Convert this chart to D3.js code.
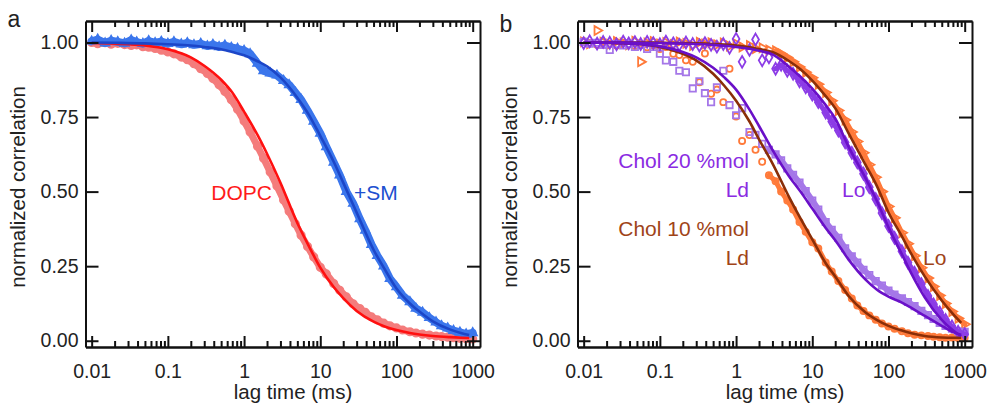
<!DOCTYPE html>
<html lang="en">
<head>
<meta charset="utf-8">
<title>FCS normalized correlation</title>
<style>
  body { margin: 0; background: #fff; }
  svg text { font-family: "Liberation Sans", Arial, sans-serif; }
  .axis path, .axis line { stroke: #111; stroke-width: 2; }
  .axis text { fill: #222; }
</style>
</head>
<body>
<svg id="chart" width="991" height="406"></svg>
<script src="https://cdn.jsdelivr.net/npm/d3@7"></script>
<script>
// lag times (ms) of the measured points, shared by every data series
var lagData = [0.010,0.012,0.015,0.018,0.022,0.027,0.033,0.039,0.047,0.056,0.068,0.082,
  0.10,0.12,0.15,0.18,0.22,0.27,0.33,0.39,0.47,0.56,0.68,0.82,
  1.0,1.2,1.5,1.8,2.2,2.7,3.3,3.9,4.7,5.6,6.8,8.2,
  10,12,15,18,22,27,33,39,47,56,68,82,
  100,120,150,180,220,270,330,390,470,560,680,820,1000];

// lag times (ms) where the fitted curves were read
var fitLag = [0.01,0.02,0.05,0.1,0.2,0.3,0.5,0.7,1,1.5,2,3,5,7,10,15,20,30,50,70,100,150,200,300,500,700,900];

// panel a : DOPC and +SM
var dopcData = [1.000,0.996,0.999,0.994,0.997,0.993,0.990,0.992,0.986,0.984,0.980,0.974,
  0.968,0.962,0.951,0.942,0.929,0.912,0.896,0.879,0.858,0.836,0.808,0.776,
  0.737,0.700,0.652,0.612,0.566,0.519,0.472,0.434,0.392,0.354,0.316,0.281,
  0.246,0.224,0.192,0.169,0.147,0.124,0.108,0.095,0.080,0.070,0.059,0.050,
  0.043,0.036,0.030,0.026,0.022,0.019,0.016,0.014,0.012,0.010,0.008,0.007,0.006];
var smData = [1.004,1.010,0.998,1.006,1.002,0.997,1.008,1.001,0.996,1.005,0.999,1.003,
  0.996,1.002,0.994,0.999,0.992,0.996,0.988,0.993,0.985,0.990,0.983,0.979,
  0.973,0.962,0.930,0.905,0.897,0.890,0.872,0.858,0.832,0.808,0.772,0.735,
  0.695,0.650,0.598,0.555,0.500,0.460,0.408,0.370,0.322,0.285,0.250,0.208,
  0.180,0.152,0.130,0.108,0.095,0.077,0.062,0.050,0.042,0.034,0.028,0.022,0.026];
var dopcFit = [0.998,0.996,0.990,0.977,0.950,0.922,0.875,0.832,0.768,0.690,0.627,0.530,0.395,0.320,0.245,0.180,0.143,0.100,0.064,0.048,0.036,0.026,0.021,0.016,0.012,0.010,0.009];
var smFit = [1.000,0.999,0.997,0.994,0.990,0.985,0.977,0.968,0.957,0.937,0.920,0.883,0.815,0.760,0.687,0.600,0.530,0.430,0.305,0.240,0.175,0.125,0.098,0.065,0.038,0.026,0.019];

// panel b : Chol 20 %mol and Chol 10 %mol, Ld and Lo phases
var chol20LdData = [1.002,0.996,0.999,0.992,0.975,0.995,0.990,0.996,0.985,0.992,0.978,0.985,
  0.962,0.940,0.935,0.905,0.900,0.846,0.870,0.830,0.800,0.850,0.905,0.790,
  0.756,0.780,0.700,0.690,0.660,0.640,0.625,0.605,0.578,0.556,0.530,0.502,
  0.470,0.440,0.398,0.372,0.345,0.310,0.283,0.262,0.238,0.220,0.200,0.185,
  0.168,0.155,0.142,0.130,0.116,0.100,0.086,0.073,0.060,0.050,0.040,0.032,0.030];
var chol20LoData = [0.998,1.004,0.996,1.002,0.999,0.994,1.003,0.997,1.001,0.995,1.002,0.998,
  0.994,1.003,0.997,0.992,1.000,0.995,0.990,0.998,0.992,0.986,0.995,0.982,
  1.012,0.935,0.975,1.010,0.940,0.950,0.912,0.925,0.905,0.895,0.870,0.850,
  0.825,0.800,0.765,0.735,0.705,0.665,0.630,0.598,0.560,0.515,0.475,0.428,
  0.385,0.345,0.300,0.262,0.228,0.190,0.150,0.122,0.095,0.070,0.048,0.030,0.022];
var chol10LdData = [1.004,0.998,0.992,1.002,0.996,0.990,0.999,0.993,0.988,0.995,0.984,0.990,
  0.978,0.985,0.962,0.958,0.940,0.935,0.867,0.963,0.828,0.842,0.800,0.912,
  0.752,0.670,0.690,0.640,0.600,0.555,0.535,0.500,0.470,0.440,0.398,0.365,
  0.330,0.309,0.262,0.232,0.200,0.170,0.142,0.118,0.100,0.085,0.070,0.058,
  0.048,0.040,0.032,0.025,0.020,0.018,0.016,0.013,0.012,0.010,0.011,0.009,0.010];
var chol10LoData = [1.002,0.996,1.040,1.001,0.994,1.003,0.998,0.992,1.004,0.935,0.998,1.003,
  0.995,1.000,0.993,1.002,0.997,0.990,1.001,0.995,0.999,0.992,0.998,0.988,
  0.996,0.985,0.990,0.980,0.982,0.975,0.972,0.962,0.950,0.935,0.918,0.900,
  0.882,0.860,0.832,0.805,0.772,0.740,0.700,0.668,0.630,0.590,0.548,0.500,
  0.450,0.412,0.362,0.325,0.285,0.245,0.210,0.182,0.152,0.125,0.098,0.075,0.055];
var chol20LdFit = [1.000,0.999,0.995,0.987,0.968,0.950,0.915,0.883,0.842,0.775,0.720,0.640,0.550,0.500,0.443,0.378,0.337,0.272,0.205,0.172,0.148,0.128,0.110,0.083,0.050,0.029,0.020];
var chol20LoFit = [1.000,1.000,0.999,0.998,0.996,0.995,0.992,0.989,0.985,0.979,0.972,0.960,0.918,0.885,0.845,0.790,0.745,0.650,0.545,0.470,0.380,0.290,0.225,0.145,0.070,0.035,0.015];
var chol10LdFit = [1.000,0.999,0.995,0.985,0.962,0.940,0.895,0.855,0.805,0.735,0.675,0.595,0.480,0.410,0.340,0.260,0.215,0.150,0.095,0.070,0.050,0.034,0.025,0.016,0.011,0.010,0.010];
var chol10LoFit = [1.000,1.000,1.000,0.999,0.998,0.997,0.995,0.993,0.990,0.984,0.978,0.968,0.937,0.910,0.872,0.820,0.780,0.695,0.590,0.520,0.430,0.350,0.290,0.215,0.135,0.090,0.060];

// axes
var xTicks = [0.01, 0.1, 1, 10, 100, 1000];
var xTickLabels = ["0.01", "0.1", "1", "10", "100", "1000"];
var yTicks = [0, 0.25, 0.5, 0.75, 1];
var yTickLabels = ["0.00", "0.25", "0.50", "0.75", "1.00"];

var svg = d3.select("#chart");
var W = 394.5, yTop = 21, yBottom = 347;

function pairs(lags, vals) {
  return lags.map(function(t, i) { return [t, vals[i]]; });
}

function drawPanel(px, id, letter, letterY, series, fits, labels) {
  var g = svg.append("g").attr("transform", "translate(" + px + ",0)");

  var x = d3.scaleLog().domain([0.0083, 1247]).range([0, W]);
  var y = d3.scaleLinear().domain([-0.021, 1.072]).range([yBottom, yTop]);

  g.append("clipPath").attr("id", "clip" + id)
    .append("rect").attr("x", 0).attr("y", yTop).attr("width", W).attr("height", yBottom - yTop);
  var plot = g.append("g").attr("clip-path", "url(#clip" + id + ")");

  // measured points: a light band where sampling is dense, plus the markers
  series.forEach(function(s) {
    var pts = pairs(lagData, s.values);
    var band = d3.line()
      .defined(function(d) { return d[0] >= s.bandFrom; })
      .x(function(d) { return x(d[0]); })
      .y(function(d) { return y(d[1]); });
    plot.append("path").datum(pts)
      .attr("d", band)
      .attr("fill", "none")
      .attr("stroke", s.color)
      .attr("stroke-width", s.band)
      .attr("stroke-linejoin", "round")
      .attr("stroke-linecap", "round");

    var sym = d3.symbol().type(s.shape).size(s.size);
    plot.append("g").selectAll("path")
      .data(pts)
      .enter().append("path")
      .attr("transform", function(d) {
        return "translate(" + x(d[0]) + "," + y(d[1]) + ")" + (s.rotate ? " rotate(" + s.rotate + ")" : "");
      })
      .attr("d", sym)
      .attr("fill", "none")
      .attr("stroke", s.color)
      .attr("stroke-width", s.stroke);
  });

  // fitted curves
  var line = d3.line()
    .curve(d3.curveMonotoneX)
    .x(function(d) { return x(d[0]); })
    .y(function(d) { return y(d[1]); });
  fits.forEach(function(f) {
    plot.append("path").datum(pairs(fitLag, f.values))
      .attr("d", line)
      .attr("fill", "none")
      .attr("stroke", f.color)
      .attr("stroke-width", 2.6);
  });

  // frame and ticks
  var minors = x.ticks().filter(function(t) {
    return t >= 0.01 && t <= 1000 && xTicks.indexOf(t) < 0;
  });

  g.append("g").attr("class", "axis").attr("transform", "translate(0," + yBottom + ")")
    .call(d3.axisBottom(x).tickValues(minors).tickSize(-6).tickSizeOuter(0).tickFormat(""));
  g.append("g").attr("class", "axis").attr("transform", "translate(0," + yTop + ")")
    .call(d3.axisTop(x).tickValues(minors).tickSize(-6).tickSizeOuter(0).tickFormat(""));
  g.append("g").attr("class", "axis").attr("transform", "translate(0," + yTop + ")")
    .call(d3.axisTop(x).tickValues(xTicks).tickSize(-11).tickSizeOuter(0).tickFormat(""));
  g.append("g").attr("class", "axis").attr("transform", "translate(0," + yBottom + ")")
    .call(d3.axisBottom(x).tickValues(xTicks).tickSize(-11).tickSizeOuter(0).tickPadding(17)
      .tickFormat(function(d, i) { return xTickLabels[i]; }))
    .attr("font-size", 19.5).attr("font-family", null);
  g.append("g").attr("class", "axis")
    .call(d3.axisLeft(y).tickValues(yTicks).tickSize(-13).tickSizeOuter(0).tickPadding(7)
      .tickFormat(function(d, i) { return yTickLabels[i]; }))
    .attr("font-size", 19.5).attr("font-family", null);
  g.append("g").attr("class", "axis").attr("transform", "translate(" + W + ",0)")
    .call(d3.axisRight(y).tickValues(yTicks).tickSize(-13).tickSizeOuter(0).tickFormat(""));

  // titles
  g.append("text")
    .attr("x", 293 - 85.5).attr("y", 399)
    .attr("text-anchor", "middle").attr("font-size", 20.5).attr("fill", "#222")
    .text("lag time (ms)");
  g.append("text")
    .attr("transform", "translate(" + (-61) + "," + 187 + ") rotate(-90)")
    .attr("text-anchor", "middle").attr("font-size", 20.5).attr("fill", "#222")
    .text("normalized correlation");
  g.append("text")
    .attr("x", -78).attr("y", letterY)
    .attr("font-size", 23).attr("fill", "#222")
    .text(letter);

  labels.forEach(function(l) {
    g.append("text")
      .attr("x", l.x - px).attr("y", l.y)
      .attr("text-anchor", l.anchor)
      .attr("font-size", 21)
      .attr("fill", l.color)
      .text(l.text);
  });
}

drawPanel(85.5, "a", "a", 27,
  [
    { values: dopcData, color: "#f47c7c", shape: d3.symbolCircle, size: 36, stroke: 2.4, band: 7, bandFrom: 0 },
    { values: smData, color: "#3b76ec", shape: d3.symbolTriangle, size: 28, stroke: 2, band: 8, bandFrom: 0 }
  ],
  [
    { values: dopcFit, color: "#ff1010" },
    { values: smFit, color: "#1c46c8" }
  ],
  [
    { text: "DOPC", x: 272, y: 200, anchor: "end", color: "#ff1a1a" },
    { text: "+SM", x: 354, y: 200, anchor: "start", color: "#2050d0" }
  ]);

drawPanel(577.5, "b", "b", 32,
  [
    { values: chol10LdData, color: "#ff7a3a", shape: d3.symbolCircle, size: 30, stroke: 1.8, band: 5, bandFrom: 2.5 },
    { values: chol10LoData, color: "#ff7a3a", shape: d3.symbolTriangle, size: 34, stroke: 1.8, band: 5, bandFrom: 3, rotate: 90 },
    { values: chol20LdData, color: "#a577e8", shape: d3.symbolSquare, size: 40, stroke: 1.8, band: 6, bandFrom: 2.5 },
    { values: chol20LoData, color: "#8c3ce6", shape: d3.symbolDiamond, size: 40, stroke: 1.8, band: 5, bandFrom: 3 }
  ],
  [
    { values: chol10LdFit, color: "#8a2e08" },
    { values: chol10LoFit, color: "#8a2e08" },
    { values: chol20LdFit, color: "#6a10c8" },
    { values: chol20LoFit, color: "#6a10c8" }
  ],
  [
    { text: "Chol 20 %mol", x: 749, y: 168, anchor: "end", color: "#8a2be2" },
    { text: "Ld", x: 749, y: 196.5, anchor: "end", color: "#8a2be2" },
    { text: "Lo", x: 842, y: 196.5, anchor: "start", color: "#8a2be2" },
    { text: "Chol 10 %mol", x: 749, y: 236, anchor: "end", color: "#a04418" },
    { text: "Ld", x: 749, y: 265, anchor: "end", color: "#a04418" },
    { text: "Lo", x: 923, y: 265, anchor: "start", color: "#a04418" }
  ]);
</script>
</body>
</html>
